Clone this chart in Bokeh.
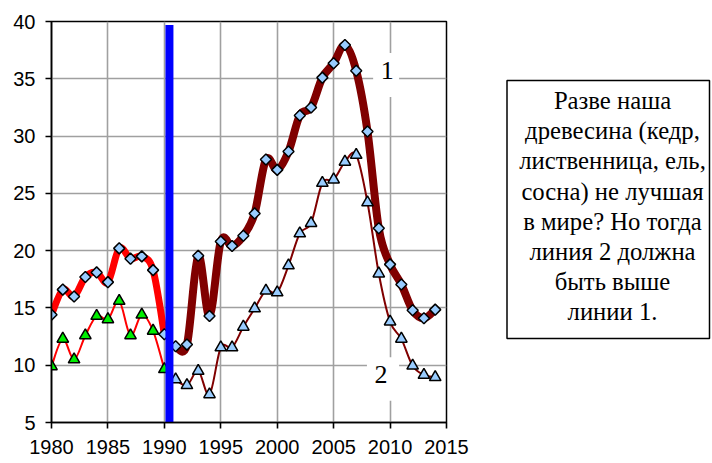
import math
from bokeh.plotting import figure
from bokeh.models import Range1d, FixedTicker, Label, BoxAnnotation
from bokeh.layouts import row
from bokeh.embed import file_html
from bokeh.resources import INLINE
from bokeh.core.properties import value

# ---- data ----
years_a = list(range(1980, 1991))
line1_a = [14.4, 16.6, 16.0, 17.7, 18.1, 17.25, 20.2, 19.3, 19.5, 18.3, 12.7]
line2_a = [9.9, 12.3, 10.5, 12.6, 14.3, 14.0, 15.6, 12.6, 14.4, 13.0, 9.65]

years_b = list(range(1991, 2015))
line1_b = [11.65, 11.8, 19.55, 14.3, 20.8, 20.4, 21.3, 23.25, 27.95, 27.05, 28.65, 31.8,
           32.5, 35.1, 36.35, 37.95, 35.7, 30.4, 21.95, 18.8, 17.05, 14.8, 14.1, 14.85]
line2_b = [8.75, 8.25, 9.5, 7.45, 11.55, 11.55, 13.35, 14.95, 16.5, 16.35, 18.7, 21.5,
           22.4, 25.9, 26.2, 27.75, 28.35, 24.2, 18.0, 13.8, 12.3, 9.95, 9.15, 8.95]

x_ticks = [1980, 1985, 1990, 1995, 2000, 2005, 2010, 2015]
y_ticks = [5, 10, 15, 20, 25, 30, 35, 40]

divider_year = 1990.45

note_lines = ["Разве наша", "древесина (кедр,", "лиственница, ель,", "сосна) не лучшая",
              "в мире? Но тогда", "линия 2 должна", "быть выше", "линии 1."]

SANS = "Liberation Sans"
SERIF = "Liberation Serif"


def smooth_segments(xs, ys):
    """Bezier control points (Catmull-Rom style, like Excel smoothing)."""
    n = len(xs)
    out = dict(x0=[], y0=[], x1=[], y1=[], cx0=[], cy0=[], cx1=[], cy1=[])
    for i in range(n - 1):
        a = i - 1 if i > 0 else i
        d = i + 2 if i + 2 < n else i + 1
        out["x0"].append(xs[i]); out["y0"].append(ys[i])
        out["x1"].append(xs[i + 1]); out["y1"].append(ys[i + 1])
        out["cx0"].append(xs[i] + (xs[i + 1] - xs[a]) / 6.0)
        out["cy0"].append(ys[i] + (ys[i + 1] - ys[a]) / 6.0)
        out["cx1"].append(xs[i + 1] - (xs[d] - xs[i]) / 6.0)
        out["cy1"].append(ys[i + 1] - (ys[d] - ys[i]) / 6.0)
    return out


H = 462
TOP = 21
BOTTOM = 40
p = figure(width=470, height=H, x_range=Range1d(1980, 2015), y_range=Range1d(5, 40),
           output_backend="svg", toolbar_location=None,
           min_border_left=51, min_border_right=24, min_border_top=TOP, min_border_bottom=BOTTOM)
p.background_fill_color = "white"
p.border_fill_color = "white"
p.outline_line_color = "black"
p.outline_line_width = 1.5

p.xaxis.ticker = FixedTicker(ticks=x_ticks)
p.yaxis.ticker = FixedTicker(ticks=y_ticks)
p.xgrid.ticker = FixedTicker(ticks=x_ticks)
p.ygrid.ticker = FixedTicker(ticks=y_ticks)
p.grid.grid_line_color = "#a0a0a0"
p.grid.grid_line_width = 1.6
for ax in (p.xaxis, p.yaxis):
    ax.axis_line_color = "black"
    ax.axis_line_width = 1.6
    ax.major_tick_line_color = "black"
    ax.major_tick_line_width = 1.6
    ax.major_tick_out = 6
    ax.major_tick_in = 0
    ax.minor_tick_line_color = None
    ax.major_label_text_font = SANS
    ax.major_label_text_font_size = "20px"
    ax.major_label_text_color = "black"
p.xaxis.major_label_standoff = 11
p.yaxis.major_label_standoff = 10

# white boxes behind labels "1" and "2"
p.add_layout(BoxAnnotation(left=2008.5, right=2010.8, top=37.25, bottom=33.4,
                           fill_color="white", fill_alpha=1, line_color=None))
p.add_layout(BoxAnnotation(left=2007.95, right=2010.8, top=10.7, bottom=6.9,
                           fill_color="white", fill_alpha=1, line_color=None))

# series 2 (thin)
p.bezier(line_color="#ff0000", line_width=2, line_cap="round",
         **smooth_segments(years_a, line2_a))
p.bezier(line_color="#800000", line_width=2, line_cap="round",
         **smooth_segments(years_b, line2_b))
# series 1 (thick)
p.bezier(line_color="#ff0000", line_width=7, line_cap="round",
         **smooth_segments(years_a, line1_a))
p.bezier(line_color="#800000", line_width=8, line_cap="round",
         **smooth_segments(years_b, line1_b))

# markers
p.scatter(years_a, line2_a, marker="triangle", size=11.5, fill_color="#00ee00",
          line_color="black", line_width=1.5)
p.scatter(years_b, line2_b, marker="triangle", size=11.5, fill_color="#99ccff",
          line_color="black", line_width=1.5)
p.scatter(years_a, line1_a, marker="square", angle=math.pi / 4, size=7.8,
          fill_color="#99ccff", line_color="black", line_width=1.5)
p.scatter(years_b, line1_b, marker="square", angle=math.pi / 4, size=7.8,
          fill_color="#99ccff", line_color="black", line_width=1.5)

# blue divider
p.segment(x0=[divider_year], y0=[4.6], x1=[divider_year], y1=[39.7],
          line_color="#0000ff", line_width=8, line_cap="butt")

p.add_layout(Label(x=2009.75, y=35.75, text="1", text_font=SERIF, text_font_size="26px",
                   text_align="center", text_baseline="alphabetic", text_color="black"))
p.add_layout(Label(x=2009.2, y=9.2, text="2", text_font=SERIF, text_font_size="26px",
                   text_align="center", text_baseline="alphabetic", text_color="black"))

# ---- note box (second figure, data units = page pixels) ----
W2 = 242
q = figure(width=W2, height=H, x_range=Range1d(0, W2), y_range=Range1d(H - BOTTOM, TOP),
           output_backend="svg", toolbar_location=None,
           x_axis_location=None, y_axis_location=None,
           min_border_left=0, min_border_right=0,
           min_border_top=TOP, min_border_bottom=BOTTOM)
q.grid.visible = False
q.outline_line_color = None
q.background_fill_color = "white"
q.border_fill_color = "white"
q.quad(left=[36.5], right=[239], top=[80], bottom=[338], fill_color=None,
       line_color="black", line_width=1.5)
q.text(x=[142] * len(note_lines), y=[100 + 30.2 * i for i in range(len(note_lines))],
       text=note_lines, text_font=value(SERIF), text_font_size="24.7px",
       text_align="center", text_baseline="alphabetic", text_color="black")

layout = row(p, q)
open("out.html", "w").write(file_html(layout, INLINE))
